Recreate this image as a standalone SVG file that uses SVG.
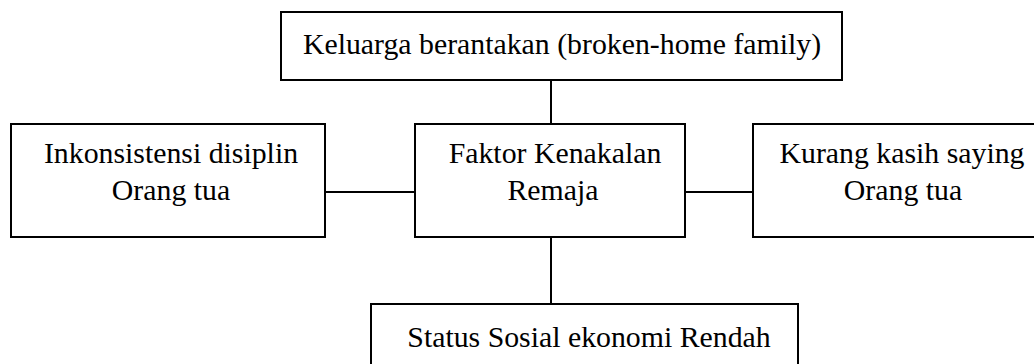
<svg xmlns="http://www.w3.org/2000/svg" width="1034" height="364" viewBox="0 0 1034 364">
<style>
.box{fill:#fff;stroke:#000;stroke-width:2}
.t{font-size:29.8px;fill:#000;text-anchor:middle}
.c{stroke:#000;stroke-width:2;fill:none}
</style>
<rect width="1034" height="364" fill="#fff"/>
<g id="connectors">
<line class="c" x1="551" y1="80" x2="551" y2="124"/>
<line class="c" x1="325" y1="192" x2="415" y2="192"/>
<line class="c" x1="685" y1="192" x2="753" y2="192"/>
<line class="c" x1="551" y1="237" x2="551" y2="304"/>
</g>
<g font-family="Liberation Serif, DejaVu Serif, serif">
<g id="node-keluarga">
<rect class="box" x="281" y="12" width="561" height="68"/>
<text class="t" x="562" y="54">Keluarga berantakan (broken-home family)</text>
</g>
<g id="node-inkonsistensi">
<rect class="box" x="11" y="124" width="314" height="113"/>
<text class="t" x="171" y="163">Inkonsistensi disiplin</text>
<text class="t" x="171" y="200">Orang tua</text>
</g>
<g id="node-faktor">
<rect class="box" x="415" y="124" width="270" height="113"/>
<text class="t" x="555" y="163">Faktor Kenakalan</text>
<text class="t" x="553" y="200">Remaja</text>
</g>
<g id="node-kurang">
<rect class="box" x="753" y="124" width="298" height="113"/>
<text class="t" x="902" y="163">Kurang kasih saying</text>
<text class="t" x="903" y="200">Orang tua</text>
</g>
<g id="node-status">
<rect class="box" x="371" y="304" width="427" height="80"/>
<text class="t" x="589" y="347">Status Sosial ekonomi Rendah</text>
</g>
</g>
</svg>
